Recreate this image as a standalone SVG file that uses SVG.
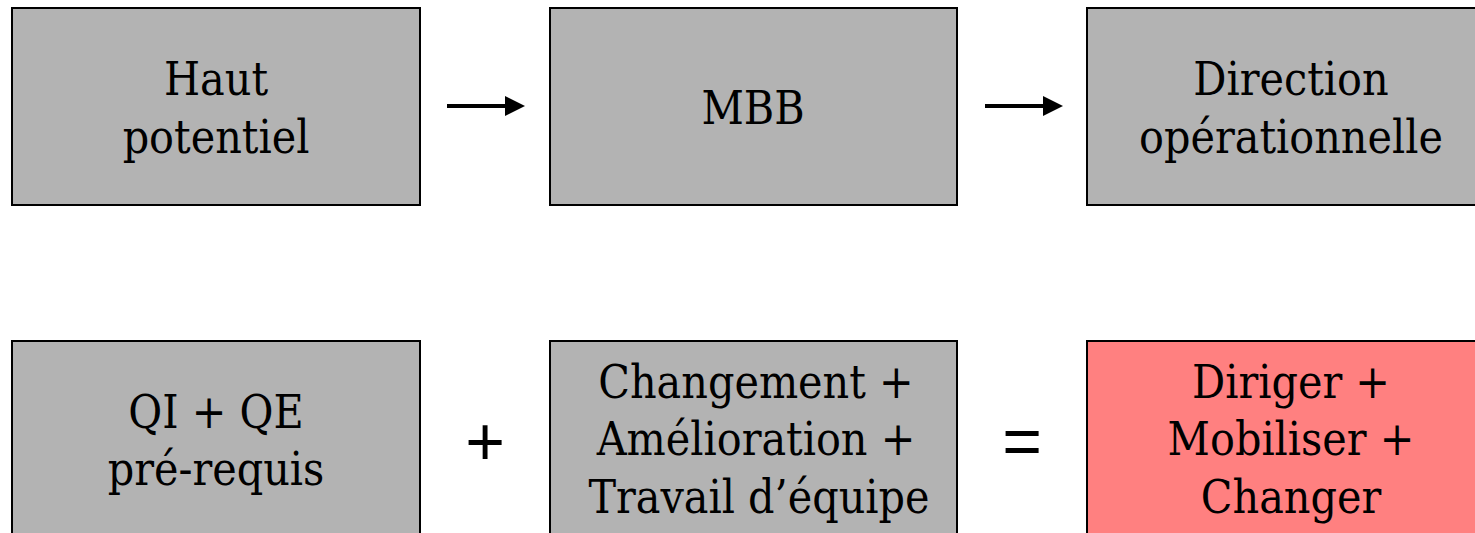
<svg xmlns="http://www.w3.org/2000/svg" width="1475" height="533" viewBox="0 0 1475 533">
<defs>
<style>
.box{fill:#b3b3b3;stroke:#000;stroke-width:2}
.red{fill:#ff8080;stroke:#000;stroke-width:2}
.t{font-family:"DejaVu Serif",serif;font-stretch:condensed;font-size:46px;fill:#000;text-anchor:middle}
.op{font-family:"Liberation Sans",Arial,sans-serif;font-size:68px;fill:#000;text-anchor:middle}
.ln{stroke:#000;stroke-width:4;fill:none}
</style>
<marker id="ah" markerWidth="5" markerHeight="5" refX="0" refY="2.5" orient="auto" markerUnits="strokeWidth">
<path d="M0,0 L5,2.5 L0,5 z" fill="#000"/>
</marker>
</defs>
<g id="n1"><rect class="box" x="12" y="8" width="408" height="197"/><text class="t" x="216" y="95">Haut</text><text class="t" x="216" y="153">potentiel</text></g>
<g id="n2"><rect class="box" x="550" y="8" width="407" height="197"/><text class="t" x="753" y="124">MBB</text></g>
<g id="n3"><rect class="box" x="1087" y="8" width="408" height="197"/><text class="t" x="1291" y="95">Direction</text><text class="t" x="1291" y="153">opérationnelle</text></g>
<g id="n4"><rect class="box" x="12" y="341" width="408" height="197"/><text class="t" x="216" y="428">QI + QE</text><text class="t" x="216" y="485">pré-requis</text></g>
<g id="n5"><rect class="box" x="550" y="341" width="407" height="197"/><text class="t" x="756" y="398">Changement +</text><text class="t" x="756" y="455">Amélioration +</text><text class="t" x="759" y="513">Travail d’équipe</text></g>
<g id="n6"><rect class="red" x="1087" y="341" width="408" height="197"/><text class="t" x="1291" y="398">Diriger +</text><text class="t" x="1291" y="455">Mobiliser +</text><text class="t" x="1291" y="513">Changer</text></g>
<g id="connectors">
<line class="ln" x1="447" y1="106" x2="505" y2="106" marker-end="url(#ah)"/>
<line class="ln" x1="985" y1="106" x2="1043" y2="106" marker-end="url(#ah)"/>
<text class="op" x="485" y="465">+</text>
<text class="op" x="1022" y="465">=</text>
</g>
</svg>
